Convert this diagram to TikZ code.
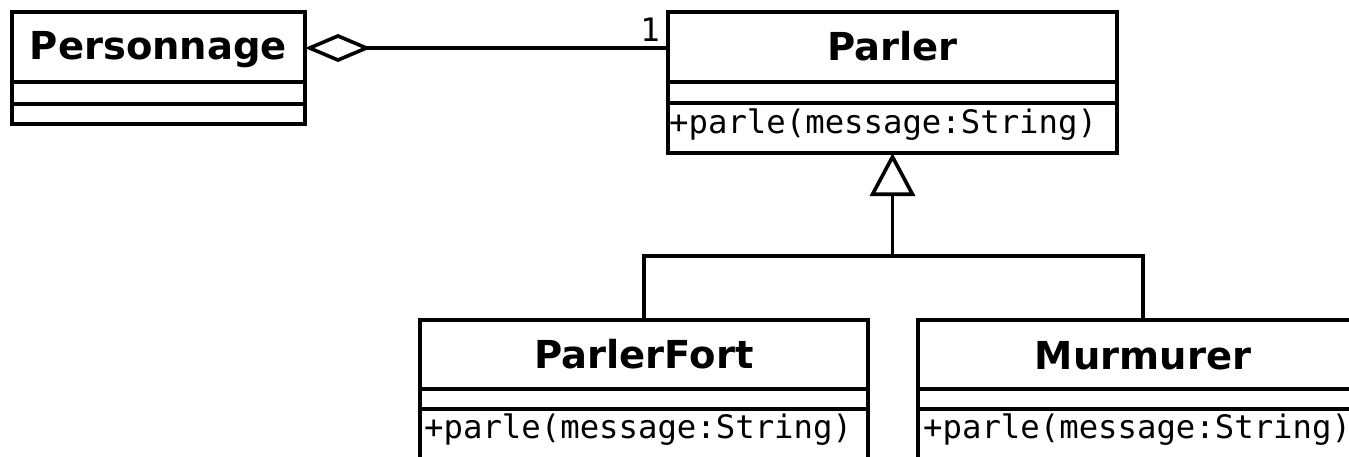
\documentclass[tikz,border=0pt]{standalone}
\usepackage{fontspec}
\newfontfamily\hdrfont{DejaVu Sans}
\newfontfamily\opfont{DejaVu Sans Mono}
\usetikzlibrary{arrows.meta,calc}
\tikzset{
  cls/.style={draw, line width=4.2pt, fill=white, anchor=north west, inner sep=0pt, outer sep=0pt},
  divider/.style={line width=4.2pt},
  cname/.style={font=\hdrfont\bfseries\fontsize{38.5}{42}\selectfont, anchor=base, inner sep=0pt},
  cop/.style={font=\opfont\fontsize{32.3}{35}\selectfont, anchor=base west, inner sep=0pt},
  mult/.style={font=\opfont\fontsize{32.3}{35}\selectfont, anchor=base, inner sep=0pt},
  link/.style={line width=3.6pt},
}
\begin{document}
\begin{tikzpicture}[x=1pt, y=-1pt]
  \useasboundingbox (0,0) rectangle (1349,456);
  \clip (0,0) rectangle (1349,456);

  % class boxes
  \node[cls, minimum width=293, minimum height=112] (pers)   at (12,12)  {};
  \node[cls, minimum width=449, minimum height=141] (parler) at (668,12) {};
  \node[cls, minimum width=448, minimum height=200] (pf)     at (420,320) {};
  \node[cls, minimum width=450, minimum height=200] (mu)     at (918,320) {};

  % compartment dividers
  \foreach \b/\u/\v in {pers/70/92, parler/70/91, pf/69/89, mu/69/89} {
    \draw[divider] ($(\b.north west)+(0,\u)$) -- ($(\b.north east)+(0,\u)$);
    \draw[divider] ($(\b.north west)+(0,\v)$) -- ($(\b.north east)+(0,\v)$);
  }

  % class names
  \node[cname] (persN)   at ($(pers.north)+(0,47)$)   {Personnage};
  \node[cname] (parlerN) at ($(parler.north)+(0,48)$) {Parler};
  \node[cname] (pfN)     at ($(pf.north)+(0,48)$)     {ParlerFort};
  \node[cname] (muN)     at ($(mu.north)+(0,49)$)     {Murmurer};

  % operations
  \node[cop] (parlerOp) at ($(parler.north west)+(1,121)$) {+parle(message:String)};
  \node[cop] (pfOp)     at ($(pf.north west)+(4,118)$)     {+parle(message:String)};
  \node[cop] (muOp)     at ($(mu.north west)+(5,118)$)     {+parle(message:String)};

  % aggregation Personnage <>--- 1 Parler
  \coordinate (aggA) at ($(pers.north east)+(0,36)$);
  \coordinate (aggB) at ($(parler.north west)+(0,36)$);
  \draw[link, {Diamond[open, length=66pt, width=28pt]}-] (aggA) -- (aggB);
  \node[mult] (m1) at (650,41) {1};

  % generalization ParlerFort, Murmurer --|> Parler
  \coordinate (gj) at ($(parler.south)+(0,103)$);
  \draw[link] (pf.north) |- (gj) -| (mu.north);
  \draw[link, -{Triangle[open, length=43pt, width=45pt]}] (gj) -- (parler.south);
\end{tikzpicture}
\end{document}
